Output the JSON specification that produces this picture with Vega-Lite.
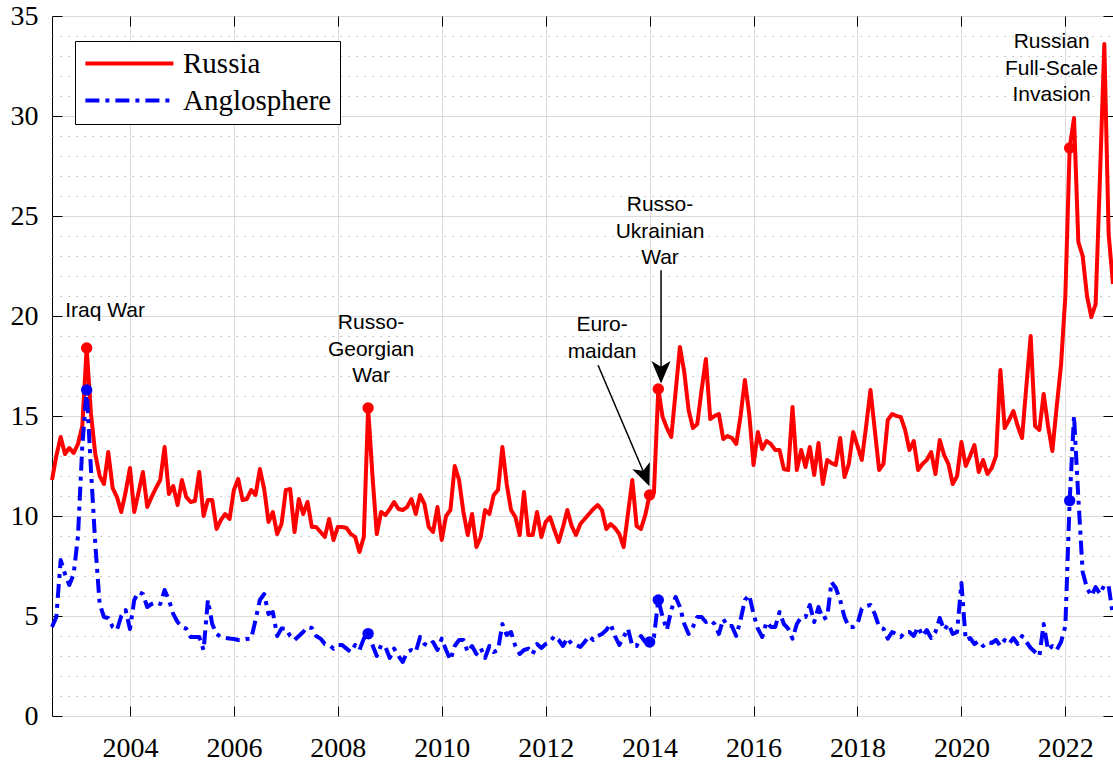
{
  "$schema": "https://vega.github.io/schema/vega-lite/v6.json",
  "width": 1061,
  "height": 700,
  "autosize": "none",
  "padding": {"left": 52, "top": 16, "right": 0, "bottom": 46},
  "background": "white",
  "config": {
    "view": {"stroke": "#000000", "strokeWidth": 1},
    "axis": {"labelFont": "Liberation Serif", "labelColor": "#000000"}
  },
  "datasets": {
    "series": [
      {"t":2002.5,"Russia":11.8,"Anglosphere":4.45},{"t":2002.583,"Russia":13.0,"Anglosphere":4.95},{"t":2002.667,"Russia":13.95,"Anglosphere":7.8},{"t":2002.75,"Russia":13.1,"Anglosphere":7.1},{"t":2002.833,"Russia":13.4,"Anglosphere":6.55},{"t":2002.917,"Russia":13.15,"Anglosphere":7.1},
      {"t":2003,"Russia":13.6,"Anglosphere":9.0},{"t":2003.083,"Russia":14.5,"Anglosphere":13.5},{"t":2003.167,"Russia":18.4,"Anglosphere":16.3},{"t":2003.25,"Russia":15.1,"Anglosphere":12.3},{"t":2003.333,"Russia":13.1,"Anglosphere":8.6},{"t":2003.417,"Russia":12.0,"Anglosphere":5.6},{"t":2003.5,"Russia":11.6,"Anglosphere":4.95},{"t":2003.583,"Russia":13.2,"Anglosphere":4.9},{"t":2003.667,"Russia":11.4,"Anglosphere":4.45},{"t":2003.75,"Russia":10.95,"Anglosphere":4.3},{"t":2003.833,"Russia":10.2,"Anglosphere":5.0},{"t":2003.917,"Russia":11.2,"Anglosphere":5.3},
      {"t":2004,"Russia":12.4,"Anglosphere":4.35},{"t":2004.083,"Russia":10.2,"Anglosphere":5.8},{"t":2004.167,"Russia":11.2,"Anglosphere":6.2},{"t":2004.25,"Russia":12.2,"Anglosphere":6.1},{"t":2004.333,"Russia":10.45,"Anglosphere":5.45},{"t":2004.417,"Russia":10.95,"Anglosphere":5.6},{"t":2004.5,"Russia":11.4,"Anglosphere":5.7},{"t":2004.583,"Russia":11.8,"Anglosphere":5.6},{"t":2004.667,"Russia":13.45,"Anglosphere":6.3},{"t":2004.75,"Russia":11.1,"Anglosphere":5.8},{"t":2004.833,"Russia":11.5,"Anglosphere":5.1},{"t":2004.917,"Russia":10.55,"Anglosphere":4.7},
      {"t":2005,"Russia":11.8,"Anglosphere":4.45},{"t":2005.083,"Russia":10.95,"Anglosphere":4.37},{"t":2005.167,"Russia":10.7,"Anglosphere":3.95},{"t":2005.25,"Russia":10.75,"Anglosphere":3.95},{"t":2005.333,"Russia":12.2,"Anglosphere":3.95},{"t":2005.417,"Russia":10.0,"Anglosphere":3.3},{"t":2005.5,"Russia":10.8,"Anglosphere":5.8},{"t":2005.583,"Russia":10.8,"Anglosphere":4.6},{"t":2005.667,"Russia":9.35,"Anglosphere":4.1},{"t":2005.75,"Russia":9.8,"Anglosphere":3.95},{"t":2005.833,"Russia":10.1,"Anglosphere":3.9},{"t":2005.917,"Russia":9.85,"Anglosphere":3.87},
      {"t":2006,"Russia":11.3,"Anglosphere":3.85},{"t":2006.083,"Russia":11.85,"Anglosphere":3.8},{"t":2006.167,"Russia":10.8,"Anglosphere":3.8},{"t":2006.25,"Russia":10.85,"Anglosphere":3.85},{"t":2006.333,"Russia":11.3,"Anglosphere":3.87},{"t":2006.417,"Russia":11.05,"Anglosphere":4.8},{"t":2006.5,"Russia":12.35,"Anglosphere":5.8},{"t":2006.583,"Russia":11.35,"Anglosphere":6.1},{"t":2006.667,"Russia":9.7,"Anglosphere":5.1},{"t":2006.75,"Russia":10.2,"Anglosphere":5.2},{"t":2006.833,"Russia":9.1,"Anglosphere":4.0},{"t":2006.917,"Russia":9.6,"Anglosphere":4.37},
      {"t":2007,"Russia":11.3,"Anglosphere":4.37},{"t":2007.083,"Russia":11.35,"Anglosphere":4.0},{"t":2007.167,"Russia":9.2,"Anglosphere":3.8},{"t":2007.25,"Russia":10.85,"Anglosphere":4.0},{"t":2007.333,"Russia":10.1,"Anglosphere":4.2},{"t":2007.417,"Russia":10.7,"Anglosphere":4.45},{"t":2007.5,"Russia":9.45,"Anglosphere":4.4},{"t":2007.583,"Russia":9.45,"Anglosphere":4.0},{"t":2007.667,"Russia":9.2,"Anglosphere":3.87},{"t":2007.75,"Russia":8.95,"Anglosphere":3.6},{"t":2007.833,"Russia":9.85,"Anglosphere":3.55},{"t":2007.917,"Russia":8.8,"Anglosphere":3.37},
      {"t":2008,"Russia":9.45,"Anglosphere":3.55},{"t":2008.083,"Russia":9.45,"Anglosphere":3.55},{"t":2008.167,"Russia":9.4,"Anglosphere":3.37},{"t":2008.25,"Russia":9.1,"Anglosphere":3.2},{"t":2008.333,"Russia":8.95,"Anglosphere":3.55},{"t":2008.417,"Russia":8.2,"Anglosphere":3.3},{"t":2008.5,"Russia":8.95,"Anglosphere":3.87},{"t":2008.583,"Russia":15.4,"Anglosphere":4.12},{"t":2008.667,"Russia":12.0,"Anglosphere":3.55},{"t":2008.75,"Russia":9.1,"Anglosphere":3.0},{"t":2008.833,"Russia":10.2,"Anglosphere":3.55},{"t":2008.917,"Russia":10.05,"Anglosphere":3.45},
      {"t":2009,"Russia":10.35,"Anglosphere":2.9},{"t":2009.083,"Russia":10.7,"Anglosphere":3.37},{"t":2009.167,"Russia":10.35,"Anglosphere":3.0},{"t":2009.25,"Russia":10.3,"Anglosphere":2.7},{"t":2009.333,"Russia":10.45,"Anglosphere":3.2},{"t":2009.417,"Russia":10.85,"Anglosphere":3.3},{"t":2009.5,"Russia":10.1,"Anglosphere":3.2},{"t":2009.583,"Russia":11.05,"Anglosphere":3.95},{"t":2009.667,"Russia":10.6,"Anglosphere":3.6},{"t":2009.75,"Russia":9.45,"Anglosphere":3.5},{"t":2009.833,"Russia":9.2,"Anglosphere":3.7},{"t":2009.917,"Russia":10.45,"Anglosphere":3.3},
      {"t":2010,"Russia":8.8,"Anglosphere":3.87},{"t":2010.083,"Russia":10.0,"Anglosphere":3.3},{"t":2010.167,"Russia":10.3,"Anglosphere":2.8},{"t":2010.25,"Russia":12.5,"Anglosphere":3.5},{"t":2010.333,"Russia":11.8,"Anglosphere":3.8},{"t":2010.417,"Russia":10.2,"Anglosphere":3.8},{"t":2010.5,"Russia":9.05,"Anglosphere":3.2},{"t":2010.583,"Russia":10.1,"Anglosphere":3.5},{"t":2010.667,"Russia":8.45,"Anglosphere":3.1},{"t":2010.75,"Russia":8.95,"Anglosphere":3.4},{"t":2010.833,"Russia":10.3,"Anglosphere":2.9},{"t":2010.917,"Russia":10.1,"Anglosphere":3.5},
      {"t":2011,"Russia":11.05,"Anglosphere":3.2},{"t":2011.083,"Russia":11.3,"Anglosphere":3.3},{"t":2011.167,"Russia":13.45,"Anglosphere":4.6},{"t":2011.25,"Russia":11.6,"Anglosphere":4.05},{"t":2011.333,"Russia":10.3,"Anglosphere":4.2},{"t":2011.417,"Russia":9.95,"Anglosphere":3.5},{"t":2011.5,"Russia":9.05,"Anglosphere":3.1},{"t":2011.583,"Russia":11.2,"Anglosphere":3.3},{"t":2011.667,"Russia":9.05,"Anglosphere":3.37},{"t":2011.75,"Russia":9.05,"Anglosphere":3.1},{"t":2011.833,"Russia":10.2,"Anglosphere":3.6},{"t":2011.917,"Russia":8.95,"Anglosphere":3.4},
      {"t":2012,"Russia":9.7,"Anglosphere":3.6},{"t":2012.083,"Russia":9.95,"Anglosphere":3.7},{"t":2012.167,"Russia":9.3,"Anglosphere":4.0},{"t":2012.25,"Russia":8.7,"Anglosphere":3.8},{"t":2012.333,"Russia":9.45,"Anglosphere":3.5},{"t":2012.417,"Russia":10.3,"Anglosphere":3.9},{"t":2012.5,"Russia":9.5,"Anglosphere":3.6},{"t":2012.583,"Russia":9.05,"Anglosphere":3.55},{"t":2012.667,"Russia":9.6,"Anglosphere":3.45},{"t":2012.75,"Russia":9.85,"Anglosphere":3.7},{"t":2012.833,"Russia":10.1,"Anglosphere":4.0},{"t":2012.917,"Russia":10.35,"Anglosphere":3.8},
      {"t":2013,"Russia":10.55,"Anglosphere":4.0},{"t":2013.083,"Russia":10.3,"Anglosphere":4.1},{"t":2013.167,"Russia":9.35,"Anglosphere":4.3},{"t":2013.25,"Russia":9.6,"Anglosphere":4.6},{"t":2013.333,"Russia":9.4,"Anglosphere":4.0},{"t":2013.417,"Russia":9.1,"Anglosphere":3.55},{"t":2013.5,"Russia":8.45,"Anglosphere":3.95},{"t":2013.583,"Russia":10.1,"Anglosphere":4.37},{"t":2013.667,"Russia":11.8,"Anglosphere":3.5},{"t":2013.75,"Russia":9.5,"Anglosphere":3.5},{"t":2013.833,"Russia":9.35,"Anglosphere":4.0},{"t":2013.917,"Russia":10.05,"Anglosphere":3.7},
      {"t":2014,"Russia":11.05,"Anglosphere":3.7},{"t":2014.083,"Russia":11.15,"Anglosphere":3.95},{"t":2014.167,"Russia":16.35,"Anglosphere":5.8},{"t":2014.25,"Russia":14.95,"Anglosphere":4.95},{"t":2014.333,"Russia":14.4,"Anglosphere":4.3},{"t":2014.417,"Russia":13.95,"Anglosphere":5.3},{"t":2014.5,"Russia":16.2,"Anglosphere":5.95},{"t":2014.583,"Russia":18.45,"Anglosphere":5.45},{"t":2014.667,"Russia":17.2,"Anglosphere":4.6},{"t":2014.75,"Russia":15.3,"Anglosphere":4.1},{"t":2014.833,"Russia":14.4,"Anglosphere":4.45},{"t":2014.917,"Russia":14.6,"Anglosphere":4.95},
      {"t":2015,"Russia":16.3,"Anglosphere":4.95},{"t":2015.083,"Russia":17.85,"Anglosphere":4.7},{"t":2015.167,"Russia":14.85,"Anglosphere":4.8},{"t":2015.25,"Russia":15.0,"Anglosphere":4.6},{"t":2015.333,"Russia":15.1,"Anglosphere":4.1},{"t":2015.417,"Russia":13.85,"Anglosphere":4.85},{"t":2015.5,"Russia":14.0,"Anglosphere":4.5},{"t":2015.583,"Russia":13.9,"Anglosphere":4.5},{"t":2015.667,"Russia":13.6,"Anglosphere":4.0},{"t":2015.75,"Russia":15.0,"Anglosphere":4.8},{"t":2015.833,"Russia":16.8,"Anglosphere":5.8},{"t":2015.917,"Russia":15.1,"Anglosphere":6.05},
      {"t":2016,"Russia":12.55,"Anglosphere":5.1},{"t":2016.083,"Russia":14.2,"Anglosphere":4.37},{"t":2016.167,"Russia":13.35,"Anglosphere":3.95},{"t":2016.25,"Russia":13.75,"Anglosphere":4.7},{"t":2016.333,"Russia":13.6,"Anglosphere":4.45},{"t":2016.417,"Russia":13.3,"Anglosphere":4.45},{"t":2016.5,"Russia":13.3,"Anglosphere":5.2},{"t":2016.583,"Russia":12.35,"Anglosphere":4.6},{"t":2016.667,"Russia":12.3,"Anglosphere":4.37},{"t":2016.75,"Russia":15.45,"Anglosphere":3.87},{"t":2016.833,"Russia":12.3,"Anglosphere":4.6},{"t":2016.917,"Russia":13.3,"Anglosphere":4.95},
      {"t":2017,"Russia":12.45,"Anglosphere":4.95},{"t":2017.083,"Russia":13.45,"Anglosphere":5.55},{"t":2017.167,"Russia":12.05,"Anglosphere":4.7},{"t":2017.25,"Russia":13.65,"Anglosphere":5.45},{"t":2017.333,"Russia":11.6,"Anglosphere":4.85},{"t":2017.417,"Russia":12.8,"Anglosphere":4.95},{"t":2017.5,"Russia":12.65,"Anglosphere":6.7},{"t":2017.583,"Russia":12.55,"Anglosphere":6.4},{"t":2017.667,"Russia":13.9,"Anglosphere":5.8},{"t":2017.75,"Russia":11.95,"Anglosphere":4.95},{"t":2017.833,"Russia":12.6,"Anglosphere":4.45},{"t":2017.917,"Russia":14.2,"Anglosphere":4.45},
      {"t":2018,"Russia":13.5,"Anglosphere":4.6},{"t":2018.083,"Russia":12.8,"Anglosphere":5.37},{"t":2018.167,"Russia":14.5,"Anglosphere":5.5},{"t":2018.25,"Russia":16.3,"Anglosphere":5.55},{"t":2018.333,"Russia":14.3,"Anglosphere":5.1},{"t":2018.417,"Russia":12.3,"Anglosphere":4.45},{"t":2018.5,"Russia":12.6,"Anglosphere":4.37},{"t":2018.583,"Russia":14.8,"Anglosphere":3.87},{"t":2018.667,"Russia":15.1,"Anglosphere":4.2},{"t":2018.75,"Russia":15.0,"Anglosphere":4.1},{"t":2018.833,"Russia":14.95,"Anglosphere":3.95},{"t":2018.917,"Russia":14.3,"Anglosphere":4.2},
      {"t":2019,"Russia":13.3,"Anglosphere":4.2},{"t":2019.083,"Russia":13.75,"Anglosphere":4.0},{"t":2019.167,"Russia":12.3,"Anglosphere":4.45},{"t":2019.25,"Russia":12.6,"Anglosphere":4.0},{"t":2019.333,"Russia":12.8,"Anglosphere":4.3},{"t":2019.417,"Russia":13.2,"Anglosphere":3.9},{"t":2019.5,"Russia":12.1,"Anglosphere":4.2},{"t":2019.583,"Russia":13.8,"Anglosphere":4.9},{"t":2019.667,"Russia":13.05,"Anglosphere":4.3},{"t":2019.75,"Russia":12.6,"Anglosphere":4.6},{"t":2019.833,"Russia":11.6,"Anglosphere":4.1},{"t":2019.917,"Russia":12.0,"Anglosphere":4.2},
      {"t":2020,"Russia":13.7,"Anglosphere":6.65},{"t":2020.083,"Russia":12.5,"Anglosphere":3.8},{"t":2020.167,"Russia":13.0,"Anglosphere":3.9},{"t":2020.25,"Russia":13.55,"Anglosphere":3.6},{"t":2020.333,"Russia":12.2,"Anglosphere":3.75},{"t":2020.417,"Russia":12.8,"Anglosphere":3.5},{"t":2020.5,"Russia":12.1,"Anglosphere":3.7},{"t":2020.583,"Russia":12.4,"Anglosphere":3.65},{"t":2020.667,"Russia":13.0,"Anglosphere":3.8},{"t":2020.75,"Russia":17.3,"Anglosphere":3.5},{"t":2020.833,"Russia":14.4,"Anglosphere":3.8},{"t":2020.917,"Russia":14.8,"Anglosphere":3.6},
      {"t":2021,"Russia":15.25,"Anglosphere":3.9},{"t":2021.083,"Russia":14.5,"Anglosphere":3.6},{"t":2021.167,"Russia":13.9,"Anglosphere":4.0},{"t":2021.25,"Russia":16.5,"Anglosphere":3.7},{"t":2021.333,"Russia":19.0,"Anglosphere":3.4},{"t":2021.417,"Russia":14.5,"Anglosphere":3.2},{"t":2021.5,"Russia":14.3,"Anglosphere":3.0},{"t":2021.583,"Russia":16.1,"Anglosphere":4.6},{"t":2021.667,"Russia":14.5,"Anglosphere":3.3},{"t":2021.75,"Russia":13.25,"Anglosphere":3.5},{"t":2021.833,"Russia":15.45,"Anglosphere":3.3},{"t":2021.917,"Russia":17.55,"Anglosphere":3.7},
      {"t":2022,"Russia":21.0,"Anglosphere":4.5},{"t":2022.083,"Russia":28.4,"Anglosphere":10.77},{"t":2022.167,"Russia":29.9,"Anglosphere":15.0},{"t":2022.25,"Russia":23.7,"Anglosphere":10.9},{"t":2022.333,"Russia":23.0,"Anglosphere":7.2},{"t":2022.417,"Russia":21.0,"Anglosphere":6.4},{"t":2022.5,"Russia":19.95,"Anglosphere":6.0},{"t":2022.583,"Russia":20.6,"Anglosphere":6.45},{"t":2022.667,"Russia":27.0,"Anglosphere":6.1},{"t":2022.75,"Russia":33.6,"Anglosphere":6.55},{"t":2022.833,"Russia":24.1,"Anglosphere":6.5},{"t":2022.917,"Russia":21.6,"Anglosphere":5.0}
    ],
    "notes": [
      {"t": 2003.52, "v": 20.23, "label": "Iraq War"},
      {"t": 2008.64, "v": 19.64, "label": "Russo-\nGeorgian\nWar"},
      {"t": 2013.085, "v": 19.54, "label": "Euro-\nmaidan"},
      {"t": 2014.2, "v": 25.53, "label": "Russo-\nUkrainian\nWar"},
      {"t": 2021.736, "v": 33.7, "label": "Russian\nFull-Scale\nInvasion"}
    ],
    "arrows": [
      {"event": "Euromaidan", "t": 2013.008, "v": 17.535, "t2": 2013.916, "v2": 12.0},
      {"event": "Russo-Ukrainian War", "t": 2014.22, "v": 22.285, "t2": 2014.22, "v2": 17.185}
    ]
  },
  "data": {"name": "series"},
  "transform": [{"fold": ["Russia", "Anglosphere"], "as": ["s", "v"]}],
  "resolve": {"axis": {"x": "independent", "y": "independent"}},
  "layer": [
    {
      "mark": {"type": "line", "strokeWidth": 4, "strokeJoin": "round", "strokeCap": "butt"},
      "encoding": {
        "x": {"field": "t", "type": "quantitative", "title": null,
          "scale": {"domain": [2002.5, 2022.917], "nice": false, "zero": false},
          "axis": {"orient": "bottom", "values": [2004, 2006, 2008, 2010, 2012, 2014, 2016, 2018, 2020, 2022], "format": "d",
            "labelFont": "Liberation Serif", "labelFontSize": 28, "labelColor": "#000000", "labelPadding": 28,
            "tickSize": -10, "tickColor": "#000000", "tickWidth": 1, "domain": false,
            "grid": true, "gridColor": "#dcdcdc", "gridWidth": 1, "labelOverlap": false, "labelFlush": false}},
        "y": {"field": "v", "type": "quantitative", "title": null,
          "scale": {"domain": [0, 35], "nice": false},
          "axis": {"orient": "left", "values": [0, 5, 10, 15, 20, 25, 30, 35],
            "labelFont": "Liberation Serif", "labelFontSize": 28, "labelColor": "#000000", "labelPadding": 24,
            "tickSize": -10, "tickColor": "#000000", "tickWidth": 1, "domain": false,
            "grid": true, "gridColor": "#dcdcdc", "gridWidth": 1, "labelOverlap": false, "labelFlush": false}},
        "color": {"field": "s", "type": "nominal",
          "scale": {"domain": ["Russia", "Anglosphere"], "range": ["#ff0000", "#0000ff"]},
          "legend": {"orient": "none", "legendX": 23, "legendY": 25, "title": null,
            "symbolType": "M-1.1,0L6.9,0", "symbolSize": 484, "symbolStrokeWidth": 4,
            "labelFont": "Liberation Serif", "labelFontSize": 29, "labelColor": "#000000", "labelOffset": 71, "labelLimit": 0,
            "strokeColor": "#000000", "fillColor": "#ffffff", "padding": 8, "rowPadding": 7}},
        "strokeDash": {"field": "s", "type": "nominal",
          "scale": {"domain": ["Russia", "Anglosphere"], "range": [[1, 0], [14, 6, 4, 6]]},
          "legend": {"orient": "none", "legendX": 23, "legendY": 25, "title": null,
            "symbolType": "M-1.1,0L6.9,0", "symbolSize": 484, "symbolStrokeWidth": 4,
            "labelFont": "Liberation Serif", "labelFontSize": 29, "labelColor": "#000000", "labelOffset": 71, "labelLimit": 0,
            "strokeColor": "#000000", "fillColor": "#ffffff", "padding": 8, "rowPadding": 7}}
      }
    },
    {
      "transform": [{"filter": {"field": "t", "oneOf": [2003.167, 2008.583, 2014, 2014.167, 2022.083]}}],
      "mark": {"type": "point", "filled": true, "size": 130, "opacity": 1},
      "encoding": {
        "x": {"field": "t", "type": "quantitative", "title": null, "axis": null},
        "y": {"field": "v", "type": "quantitative", "title": null,
          "axis": {"orient": "left", "values": [1,2,3,4,6,7,8,9,11,12,13,14,16,17,18,19,21,22,23,24,26,27,28,29,31,32,33,34],
            "labels": false, "ticks": false, "domain": false, "grid": true, "gridColor": "#b8b8b8", "gridDash": [1.5, 6.5], "gridWidth": 1}},
        "color": {"field": "s", "type": "nominal",
          "scale": {"domain": ["Russia", "Anglosphere"], "range": ["#ff0000", "#0000ff"]}, "legend": null}
      }
    },
    {
      "data": {"name": "arrows"},
      "mark": {"type": "rule", "color": "#000000", "strokeWidth": 1.5},
      "encoding": {
        "x": {"field": "t", "type": "quantitative", "title": null,
          "axis": {"orient": "top", "values": [2004, 2006, 2008, 2010, 2012, 2014, 2016, 2018, 2020, 2022],
            "labels": false, "tickSize": -10, "tickColor": "#000000", "domain": false, "grid": false}},
        "x2": {"field": "t2"},
        "y": {"field": "v", "type": "quantitative", "title": null,
          "axis": {"orient": "right", "values": [0, 5, 10, 15, 20, 25, 30, 35],
            "labels": false, "tickSize": -10, "tickColor": "#000000", "domain": false, "grid": false}},
        "y2": {"field": "v2"}
      }
    },
    {
      "data": {"name": "arrows"},
      "transform": [{"filter": "datum.event == 'Euromaidan'"}],
      "mark": {"type": "point", "shape": "M0,1L-0.85,-1L0,-0.5L0.85,-1Z", "size": 500, "filled": true, "color": "#000000", "opacity": 1, "angle": 338},
      "encoding": {
        "x": {"field": "t2", "type": "quantitative", "axis": null},
        "y": {"field": "v2", "type": "quantitative", "axis": null}
      }
    },
    {
      "data": {"name": "arrows"},
      "transform": [{"filter": "datum.event == 'Russo-Ukrainian War'"}],
      "mark": {"type": "point", "shape": "M0,1L-0.85,-1L0,-0.5L0.85,-1Z", "size": 500, "filled": true, "color": "#000000", "opacity": 1, "angle": 0},
      "encoding": {
        "x": {"field": "t2", "type": "quantitative", "axis": null},
        "y": {"field": "v2", "type": "quantitative", "axis": null}
      }
    },
    {
      "data": {"name": "notes"},
      "mark": {"type": "text", "font": "Liberation Sans", "fontSize": 21, "color": "#000000", "align": "center", "baseline": "middle", "lineBreak": "\n", "lineHeight": 26.5},
      "encoding": {
        "x": {"field": "t", "type": "quantitative", "axis": null},
        "y": {"field": "v", "type": "quantitative", "axis": null},
        "text": {"field": "label"}
      }
    }
  ]
}
